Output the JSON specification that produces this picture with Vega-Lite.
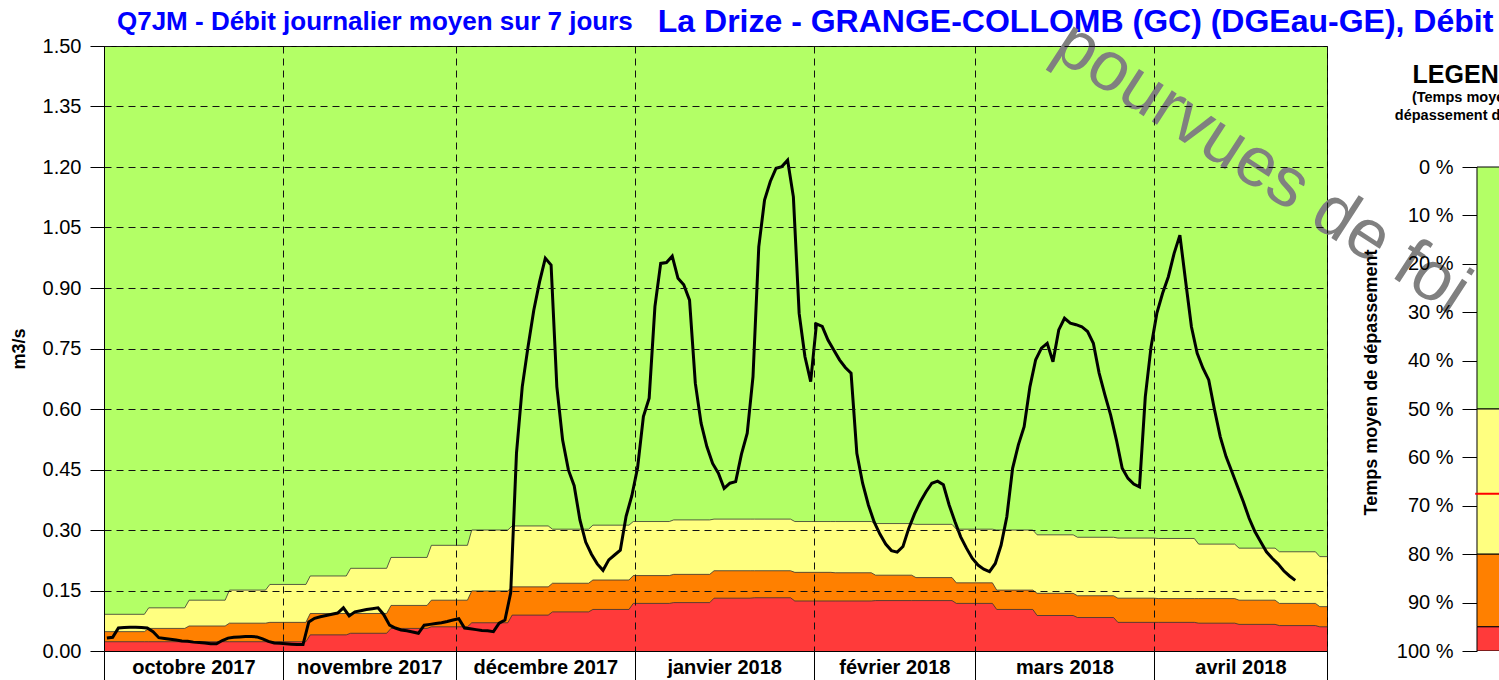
{
  "$schema": "https://vega.github.io/schema/vega-lite/v6.json",
  "background": "white",
  "padding": {"left": 9, "top": 5, "right": 0, "bottom": 0},
  "config": {
    "font": "Liberation Sans",
    "axis": {"labelFont": "Liberation Sans", "titleFont": "Liberation Sans", "labelColor": "#000", "titleColor": "#000", "tickColor": "#000", "domainColor": "#000"},
    "text": {"font": "Liberation Sans"}
  },
  "bounds": "flush",
  "spacing": 53,
  "datasets": {
    "seuils": [
      {"t": "2017-10-01T00:00", "q1": 0.023, "q2": 0.048, "q3": 0.091},
      {"t": "2017-10-08T00:00", "q1": 0.023, "q2": 0.048, "q3": 0.091},
      {"t": "2017-10-08T18:00", "q1": 0.023, "q2": 0.056, "q3": 0.107},
      {"t": "2017-10-15T00:00", "q1": 0.023, "q2": 0.056, "q3": 0.107},
      {"t": "2017-10-15T18:00", "q1": 0.023, "q2": 0.062, "q3": 0.126},
      {"t": "2017-10-22T00:00", "q1": 0.023, "q2": 0.062, "q3": 0.126},
      {"t": "2017-10-22T18:00", "q1": 0.023, "q2": 0.069, "q3": 0.151},
      {"t": "2017-10-29T00:00", "q1": 0.023, "q2": 0.069, "q3": 0.151},
      {"t": "2017-10-29T18:00", "q1": 0.023, "q2": 0.071, "q3": 0.165},
      {"t": "2017-11-05T00:00", "q1": 0.023, "q2": 0.071, "q3": 0.165},
      {"t": "2017-11-05T18:00", "q1": 0.040, "q2": 0.093, "q3": 0.186},
      {"t": "2017-11-12T00:00", "q1": 0.040, "q2": 0.093, "q3": 0.186},
      {"t": "2017-11-12T18:00", "q1": 0.044, "q2": 0.093, "q3": 0.205},
      {"t": "2017-11-19T00:00", "q1": 0.044, "q2": 0.093, "q3": 0.205},
      {"t": "2017-11-19T18:00", "q1": 0.056, "q2": 0.113, "q3": 0.232},
      {"t": "2017-11-26T00:00", "q1": 0.056, "q2": 0.113, "q3": 0.232},
      {"t": "2017-11-26T18:00", "q1": 0.060, "q2": 0.126, "q3": 0.262},
      {"t": "2017-12-03T00:00", "q1": 0.060, "q2": 0.126, "q3": 0.262},
      {"t": "2017-12-03T18:00", "q1": 0.070, "q2": 0.149, "q3": 0.300},
      {"t": "2017-12-10T00:00", "q1": 0.070, "q2": 0.149, "q3": 0.300},
      {"t": "2017-12-10T18:00", "q1": 0.089, "q2": 0.159, "q3": 0.310},
      {"t": "2017-12-17T00:00", "q1": 0.089, "q2": 0.159, "q3": 0.310},
      {"t": "2017-12-17T18:00", "q1": 0.097, "q2": 0.168, "q3": 0.302},
      {"t": "2017-12-24T00:00", "q1": 0.097, "q2": 0.168, "q3": 0.302},
      {"t": "2017-12-24T18:00", "q1": 0.103, "q2": 0.176, "q3": 0.312},
      {"t": "2017-12-31T00:00", "q1": 0.103, "q2": 0.176, "q3": 0.312},
      {"t": "2017-12-31T18:00", "q1": 0.118, "q2": 0.187, "q3": 0.321},
      {"t": "2018-01-07T00:00", "q1": 0.118, "q2": 0.187, "q3": 0.321},
      {"t": "2018-01-07T18:00", "q1": 0.120, "q2": 0.190, "q3": 0.325},
      {"t": "2018-01-14T00:00", "q1": 0.120, "q2": 0.190, "q3": 0.325},
      {"t": "2018-01-14T18:00", "q1": 0.131, "q2": 0.199, "q3": 0.327},
      {"t": "2018-01-21T00:00", "q1": 0.131, "q2": 0.199, "q3": 0.327},
      {"t": "2018-01-21T18:00", "q1": 0.132, "q2": 0.199, "q3": 0.327},
      {"t": "2018-01-28T00:00", "q1": 0.132, "q2": 0.199, "q3": 0.327},
      {"t": "2018-01-28T18:00", "q1": 0.124, "q2": 0.195, "q3": 0.321},
      {"t": "2018-02-04T00:00", "q1": 0.124, "q2": 0.195, "q3": 0.321},
      {"t": "2018-02-04T18:00", "q1": 0.124, "q2": 0.194, "q3": 0.321},
      {"t": "2018-02-11T00:00", "q1": 0.124, "q2": 0.194, "q3": 0.321},
      {"t": "2018-02-11T18:00", "q1": 0.125, "q2": 0.188, "q3": 0.316},
      {"t": "2018-02-18T00:00", "q1": 0.125, "q2": 0.188, "q3": 0.316},
      {"t": "2018-02-18T18:00", "q1": 0.125, "q2": 0.182, "q3": 0.314},
      {"t": "2018-02-25T00:00", "q1": 0.125, "q2": 0.182, "q3": 0.314},
      {"t": "2018-02-25T18:00", "q1": 0.118, "q2": 0.169, "q3": 0.302},
      {"t": "2018-03-04T00:00", "q1": 0.118, "q2": 0.169, "q3": 0.302},
      {"t": "2018-03-04T18:00", "q1": 0.103, "q2": 0.151, "q3": 0.300},
      {"t": "2018-03-11T00:00", "q1": 0.103, "q2": 0.151, "q3": 0.300},
      {"t": "2018-03-11T18:00", "q1": 0.088, "q2": 0.143, "q3": 0.288},
      {"t": "2018-03-18T00:00", "q1": 0.088, "q2": 0.143, "q3": 0.288},
      {"t": "2018-03-18T18:00", "q1": 0.083, "q2": 0.137, "q3": 0.282},
      {"t": "2018-03-25T00:00", "q1": 0.083, "q2": 0.137, "q3": 0.282},
      {"t": "2018-03-25T18:00", "q1": 0.071, "q2": 0.131, "q3": 0.280},
      {"t": "2018-04-01T00:00", "q1": 0.071, "q2": 0.131, "q3": 0.280},
      {"t": "2018-04-01T18:00", "q1": 0.071, "q2": 0.130, "q3": 0.279},
      {"t": "2018-04-08T00:00", "q1": 0.071, "q2": 0.130, "q3": 0.279},
      {"t": "2018-04-08T18:00", "q1": 0.069, "q2": 0.130, "q3": 0.265},
      {"t": "2018-04-15T00:00", "q1": 0.069, "q2": 0.130, "q3": 0.265},
      {"t": "2018-04-15T18:00", "q1": 0.066, "q2": 0.126, "q3": 0.255},
      {"t": "2018-04-22T00:00", "q1": 0.066, "q2": 0.126, "q3": 0.255},
      {"t": "2018-04-22T18:00", "q1": 0.063, "q2": 0.118, "q3": 0.246},
      {"t": "2018-04-29T00:00", "q1": 0.063, "q2": 0.118, "q3": 0.246},
      {"t": "2018-04-29T18:00", "q1": 0.060, "q2": 0.110, "q3": 0.234},
      {"t": "2018-05-01T00:00", "q1": 0.060, "q2": 0.110, "q3": 0.234}
    ],
    "q7jm": [
      {"t": "2017-10-01T12:00", "q": 0.032}, {"t": "2017-10-02T12:00", "q": 0.034}, {"t": "2017-10-03T12:00", "q": 0.057},
      {"t": "2017-10-04T12:00", "q": 0.058}, {"t": "2017-10-05T12:00", "q": 0.059}, {"t": "2017-10-06T12:00", "q": 0.059},
      {"t": "2017-10-07T12:00", "q": 0.058}, {"t": "2017-10-08T12:00", "q": 0.057}, {"t": "2017-10-09T12:00", "q": 0.048},
      {"t": "2017-10-10T12:00", "q": 0.033}, {"t": "2017-10-11T12:00", "q": 0.031}, {"t": "2017-10-12T12:00", "q": 0.029},
      {"t": "2017-10-13T12:00", "q": 0.027}, {"t": "2017-10-14T12:00", "q": 0.025}, {"t": "2017-10-15T12:00", "q": 0.024},
      {"t": "2017-10-16T12:00", "q": 0.022}, {"t": "2017-10-17T12:00", "q": 0.021}, {"t": "2017-10-18T12:00", "q": 0.020},
      {"t": "2017-10-19T12:00", "q": 0.018}, {"t": "2017-10-20T12:00", "q": 0.018}, {"t": "2017-10-21T12:00", "q": 0.026},
      {"t": "2017-10-22T12:00", "q": 0.032}, {"t": "2017-10-23T12:00", "q": 0.034}, {"t": "2017-10-24T12:00", "q": 0.035},
      {"t": "2017-10-25T12:00", "q": 0.036}, {"t": "2017-10-26T12:00", "q": 0.036}, {"t": "2017-10-27T12:00", "q": 0.035},
      {"t": "2017-10-28T12:00", "q": 0.030}, {"t": "2017-10-29T12:00", "q": 0.024}, {"t": "2017-10-30T12:00", "q": 0.020},
      {"t": "2017-10-31T12:00", "q": 0.019}, {"t": "2017-11-01T12:00", "q": 0.018}, {"t": "2017-11-02T12:00", "q": 0.017},
      {"t": "2017-11-03T12:00", "q": 0.016}, {"t": "2017-11-04T12:00", "q": 0.016}, {"t": "2017-11-05T12:00", "q": 0.072},
      {"t": "2017-11-06T12:00", "q": 0.081}, {"t": "2017-11-07T12:00", "q": 0.085}, {"t": "2017-11-08T12:00", "q": 0.088},
      {"t": "2017-11-09T12:00", "q": 0.091}, {"t": "2017-11-10T12:00", "q": 0.094}, {"t": "2017-11-11T12:00", "q": 0.107},
      {"t": "2017-11-12T12:00", "q": 0.087}, {"t": "2017-11-13T12:00", "q": 0.097}, {"t": "2017-11-14T12:00", "q": 0.100},
      {"t": "2017-11-15T12:00", "q": 0.103}, {"t": "2017-11-16T12:00", "q": 0.105}, {"t": "2017-11-17T12:00", "q": 0.107},
      {"t": "2017-11-18T12:00", "q": 0.090}, {"t": "2017-11-19T12:00", "q": 0.064}, {"t": "2017-11-20T12:00", "q": 0.057},
      {"t": "2017-11-21T12:00", "q": 0.052}, {"t": "2017-11-22T12:00", "q": 0.050}, {"t": "2017-11-23T12:00", "q": 0.047},
      {"t": "2017-11-24T12:00", "q": 0.044}, {"t": "2017-11-25T12:00", "q": 0.064}, {"t": "2017-11-26T12:00", "q": 0.066},
      {"t": "2017-11-27T12:00", "q": 0.068}, {"t": "2017-11-28T12:00", "q": 0.070}, {"t": "2017-11-29T12:00", "q": 0.073},
      {"t": "2017-11-30T12:00", "q": 0.077}, {"t": "2017-12-01T12:00", "q": 0.080}, {"t": "2017-12-02T12:00", "q": 0.057},
      {"t": "2017-12-03T12:00", "q": 0.055}, {"t": "2017-12-04T12:00", "q": 0.053}, {"t": "2017-12-05T12:00", "q": 0.051},
      {"t": "2017-12-06T12:00", "q": 0.050}, {"t": "2017-12-07T12:00", "q": 0.048}, {"t": "2017-12-08T12:00", "q": 0.069},
      {"t": "2017-12-09T12:00", "q": 0.077}, {"t": "2017-12-10T12:00", "q": 0.144}, {"t": "2017-12-11T12:00", "q": 0.490},
      {"t": "2017-12-12T12:00", "q": 0.655}, {"t": "2017-12-13T12:00", "q": 0.754}, {"t": "2017-12-14T12:00", "q": 0.845},
      {"t": "2017-12-15T12:00", "q": 0.915}, {"t": "2017-12-16T12:00", "q": 0.974}, {"t": "2017-12-17T12:00", "q": 0.957},
      {"t": "2017-12-18T12:00", "q": 0.655}, {"t": "2017-12-19T12:00", "q": 0.523}, {"t": "2017-12-20T12:00", "q": 0.449},
      {"t": "2017-12-21T12:00", "q": 0.410}, {"t": "2017-12-22T12:00", "q": 0.325}, {"t": "2017-12-23T12:00", "q": 0.270},
      {"t": "2017-12-24T12:00", "q": 0.240}, {"t": "2017-12-25T12:00", "q": 0.216}, {"t": "2017-12-26T12:00", "q": 0.200},
      {"t": "2017-12-27T12:00", "q": 0.226}, {"t": "2017-12-28T12:00", "q": 0.238}, {"t": "2017-12-29T12:00", "q": 0.250},
      {"t": "2017-12-30T12:00", "q": 0.334}, {"t": "2017-12-31T12:00", "q": 0.385}, {"t": "2018-01-01T12:00", "q": 0.455},
      {"t": "2018-01-02T12:00", "q": 0.581}, {"t": "2018-01-03T12:00", "q": 0.627}, {"t": "2018-01-04T12:00", "q": 0.854},
      {"t": "2018-01-05T12:00", "q": 0.961}, {"t": "2018-01-06T12:00", "q": 0.963}, {"t": "2018-01-07T12:00", "q": 0.979},
      {"t": "2018-01-08T12:00", "q": 0.924}, {"t": "2018-01-09T12:00", "q": 0.908}, {"t": "2018-01-10T12:00", "q": 0.870},
      {"t": "2018-01-11T12:00", "q": 0.664}, {"t": "2018-01-12T12:00", "q": 0.565}, {"t": "2018-01-13T12:00", "q": 0.507},
      {"t": "2018-01-14T12:00", "q": 0.465}, {"t": "2018-01-15T12:00", "q": 0.441}, {"t": "2018-01-16T12:00", "q": 0.403},
      {"t": "2018-01-17T12:00", "q": 0.416}, {"t": "2018-01-18T12:00", "q": 0.420}, {"t": "2018-01-19T12:00", "q": 0.488},
      {"t": "2018-01-20T12:00", "q": 0.540}, {"t": "2018-01-21T12:00", "q": 0.680}, {"t": "2018-01-22T12:00", "q": 1.002},
      {"t": "2018-01-23T12:00", "q": 1.118}, {"t": "2018-01-24T12:00", "q": 1.164}, {"t": "2018-01-25T12:00", "q": 1.197},
      {"t": "2018-01-26T12:00", "q": 1.201}, {"t": "2018-01-27T12:00", "q": 1.217}, {"t": "2018-01-28T12:00", "q": 1.126},
      {"t": "2018-01-29T12:00", "q": 0.837}, {"t": "2018-01-30T12:00", "q": 0.730}, {"t": "2018-01-31T12:00", "q": 0.668},
      {"t": "2018-02-01T12:00", "q": 0.811}, {"t": "2018-02-02T12:00", "q": 0.805}, {"t": "2018-02-03T12:00", "q": 0.771},
      {"t": "2018-02-04T12:00", "q": 0.746}, {"t": "2018-02-05T12:00", "q": 0.722}, {"t": "2018-02-06T12:00", "q": 0.703},
      {"t": "2018-02-07T12:00", "q": 0.689}, {"t": "2018-02-08T12:00", "q": 0.490}, {"t": "2018-02-09T12:00", "q": 0.416},
      {"t": "2018-02-10T12:00", "q": 0.362}, {"t": "2018-02-11T12:00", "q": 0.320}, {"t": "2018-02-12T12:00", "q": 0.290},
      {"t": "2018-02-13T12:00", "q": 0.265}, {"t": "2018-02-14T12:00", "q": 0.249}, {"t": "2018-02-15T12:00", "q": 0.245},
      {"t": "2018-02-16T12:00", "q": 0.259}, {"t": "2018-02-17T12:00", "q": 0.304}, {"t": "2018-02-18T12:00", "q": 0.340},
      {"t": "2018-02-19T12:00", "q": 0.370}, {"t": "2018-02-20T12:00", "q": 0.395}, {"t": "2018-02-21T12:00", "q": 0.416},
      {"t": "2018-02-22T12:00", "q": 0.421}, {"t": "2018-02-23T12:00", "q": 0.412}, {"t": "2018-02-24T12:00", "q": 0.362},
      {"t": "2018-02-25T12:00", "q": 0.321}, {"t": "2018-02-26T12:00", "q": 0.283}, {"t": "2018-02-27T12:00", "q": 0.255},
      {"t": "2018-02-28T12:00", "q": 0.230}, {"t": "2018-03-01T12:00", "q": 0.213}, {"t": "2018-03-02T12:00", "q": 0.203},
      {"t": "2018-03-03T12:00", "q": 0.197}, {"t": "2018-03-04T12:00", "q": 0.217}, {"t": "2018-03-05T12:00", "q": 0.262},
      {"t": "2018-03-06T12:00", "q": 0.333}, {"t": "2018-03-07T12:00", "q": 0.453}, {"t": "2018-03-08T12:00", "q": 0.511},
      {"t": "2018-03-09T12:00", "q": 0.556}, {"t": "2018-03-10T12:00", "q": 0.655}, {"t": "2018-03-11T12:00", "q": 0.722},
      {"t": "2018-03-12T12:00", "q": 0.751}, {"t": "2018-03-13T12:00", "q": 0.763}, {"t": "2018-03-14T12:00", "q": 0.717},
      {"t": "2018-03-15T12:00", "q": 0.796}, {"t": "2018-03-16T12:00", "q": 0.825}, {"t": "2018-03-17T12:00", "q": 0.813},
      {"t": "2018-03-18T12:00", "q": 0.809}, {"t": "2018-03-19T12:00", "q": 0.804}, {"t": "2018-03-20T12:00", "q": 0.792},
      {"t": "2018-03-21T12:00", "q": 0.763}, {"t": "2018-03-22T12:00", "q": 0.689}, {"t": "2018-03-23T12:00", "q": 0.635},
      {"t": "2018-03-24T12:00", "q": 0.585}, {"t": "2018-03-25T12:00", "q": 0.523}, {"t": "2018-03-26T12:00", "q": 0.453},
      {"t": "2018-03-27T12:00", "q": 0.428}, {"t": "2018-03-28T12:00", "q": 0.414}, {"t": "2018-03-29T12:00", "q": 0.407},
      {"t": "2018-03-30T12:00", "q": 0.630}, {"t": "2018-03-31T12:00", "q": 0.754}, {"t": "2018-04-01T12:00", "q": 0.837},
      {"t": "2018-04-02T12:00", "q": 0.887}, {"t": "2018-04-03T12:00", "q": 0.928}, {"t": "2018-04-04T12:00", "q": 0.986},
      {"t": "2018-04-05T12:00", "q": 1.031}, {"t": "2018-04-06T12:00", "q": 0.916}, {"t": "2018-04-07T12:00", "q": 0.804},
      {"t": "2018-04-08T12:00", "q": 0.738}, {"t": "2018-04-09T12:00", "q": 0.701}, {"t": "2018-04-10T12:00", "q": 0.672},
      {"t": "2018-04-11T12:00", "q": 0.598}, {"t": "2018-04-12T12:00", "q": 0.531}, {"t": "2018-04-13T12:00", "q": 0.482},
      {"t": "2018-04-14T12:00", "q": 0.445}, {"t": "2018-04-15T12:00", "q": 0.407}, {"t": "2018-04-16T12:00", "q": 0.370},
      {"t": "2018-04-17T12:00", "q": 0.329}, {"t": "2018-04-18T12:00", "q": 0.296}, {"t": "2018-04-19T12:00", "q": 0.271},
      {"t": "2018-04-20T12:00", "q": 0.246}, {"t": "2018-04-21T12:00", "q": 0.230}, {"t": "2018-04-22T12:00", "q": 0.216},
      {"t": "2018-04-23T12:00", "q": 0.199}, {"t": "2018-04-24T12:00", "q": 0.186}, {"t": "2018-04-25T12:00", "q": 0.175}
    ],
    "zones": [
      {"zone": "vert", "de": 0, "a": 50},
      {"zone": "jaune", "de": 50, "a": 80},
      {"zone": "orange", "de": 80, "a": 95},
      {"zone": "rouge", "de": 95, "a": 100}
    ],
    "repere": [{"pct": 67.5}]
  },
  "hconcat": [
    {
      "width": 1223,
      "height": 605,
      "view": {"fill": "#b3ff66", "stroke": "#000", "strokeWidth": 1},
      "layer": [
        {
          "data": {"name": "seuils"},
          "mark": {"type": "area", "color": "#ffff80", "opacity": 1, "line": {"color": "#333", "strokeWidth": 0.8}},
          "encoding": {
            "x": {
              "field": "t", "type": "temporal",
              "scale": {"domain": [{"year": 2017, "month": 10, "date": 1}, {"year": 2018, "month": 5, "date": 1}], "nice": false},
              "axis": {
                "title": null,
                "values": [
                  {"year": 2017, "month": 10, "date": 1}, {"year": 2017, "month": 10, "date": 16, "hours": 12},
                  {"year": 2017, "month": 11, "date": 1}, {"year": 2017, "month": 11, "date": 16},
                  {"year": 2017, "month": 12, "date": 1}, {"year": 2017, "month": 12, "date": 16, "hours": 12},
                  {"year": 2018, "month": 1, "date": 1}, {"year": 2018, "month": 1, "date": 16, "hours": 12},
                  {"year": 2018, "month": 2, "date": 1}, {"year": 2018, "month": 2, "date": 15},
                  {"year": 2018, "month": 3, "date": 1}, {"year": 2018, "month": 3, "date": 16, "hours": 12},
                  {"year": 2018, "month": 4, "date": 1}, {"year": 2018, "month": 4, "date": 16},
                  {"year": 2018, "month": 5, "date": 1}
                ],
                "labelExpr": "date(datum.value) == 1 ? '' : ['janvier','février','mars','avril','mai','juin','juillet','août','septembre','octobre','novembre','décembre'][month(datum.value)] + ' ' + year(datum.value)",
                "labelFontSize": 20,
                "labelFontWeight": "bold",
                "labelOverlap": false,
                "labelFlush": false,
                "labelBaseline": "top",
                "labelPadding": -23,
                "tickSize": 29,
                "tickOpacity": {"condition": {"test": "date(datum.value) == 1", "value": 1}, "value": 0},
                "grid": true,
                "gridOpacity": {"condition": {"test": "date(datum.value) == 1", "value": 1}, "value": 0},
                "gridDash": [7, 5],
                "gridColor": "#111",
                "domain": true,
                "zindex": 1
              }
            },
            "y": {
              "field": "q3", "type": "quantitative",
              "scale": {"domain": [0, 1.5], "nice": false},
              "axis": {
                "title": "m3/s",
                "titleFontSize": 18,
                "titleFontWeight": "bold",
                "titlePadding": 14,
                "values": [0, 0.15, 0.3, 0.45, 0.6, 0.75, 0.9, 1.05, 1.2, 1.35, 1.5],
                "format": ".2f",
                "labelFontSize": 20,
                "tickSize": 14,
                "labelPadding": 9,
                "grid": true,
                "gridDash": [7, 5],
                "gridColor": "#111",
                "domain": true,
                "zindex": 1
              }
            }
          }
        },
        {
          "data": {"name": "seuils"},
          "mark": {"type": "area", "color": "#ff8000", "opacity": 1, "line": {"color": "#333", "strokeWidth": 0.8}},
          "encoding": {
            "x": {"field": "t", "type": "temporal"},
            "y": {"field": "q2", "type": "quantitative"}
          }
        },
        {
          "data": {"name": "seuils"},
          "mark": {"type": "area", "color": "#ff3a3a", "opacity": 1, "line": {"color": "#333", "strokeWidth": 0.8}},
          "encoding": {
            "x": {"field": "t", "type": "temporal"},
            "y": {"field": "q1", "type": "quantitative"}
          }
        },
        {
          "data": {"name": "q7jm"},
          "mark": {"type": "line", "color": "#000", "strokeWidth": 3},
          "encoding": {
            "x": {"field": "t", "type": "temporal"},
            "y": {"field": "q", "type": "quantitative"}
          }
        },
        {
          "data": {"values": [{}]},
          "mark": {"type": "text", "text": "Q7JM - Débit journalier moyen sur 7 jours", "align": "left", "baseline": "middle", "fontSize": 26, "fontWeight": "bold", "color": "#0000ff"},
          "encoding": {
            "x": {"datum": {"year": 2017, "month": 10, "date": 3, "hours": 6}, "type": "temporal"},
            "y": {"datum": 1.56, "type": "quantitative"}
          }
        },
        {
          "data": {"values": [{}]},
          "mark": {"type": "text", "text": "La Drize - GRANGE-COLLOMB (GC) (DGEau-GE), Débit", "align": "left", "baseline": "middle", "fontSize": 32, "fontWeight": "bold", "color": "#0000ff"},
          "encoding": {
            "x": {"datum": {"year": 2018, "month": 1, "date": 5}, "type": "temporal"},
            "y": {"datum": 1.56, "type": "quantitative"}
          }
        },
        {
          "data": {"values": [{}]},
          "mark": {"type": "text", "text": "pourvues de foi", "align": "center", "baseline": "middle", "fontSize": 70, "angle": 33, "color": "#808080"},
          "encoding": {
            "x": {"datum": {"year": 2018, "month": 4, "date": 19, "hours": 17}, "type": "temporal"},
            "y": {"datum": 1.198, "type": "quantitative"}
          }
        }
      ]
    },
    {
      "width": 119,
      "height": 605,
      "view": {"stroke": null, "fill": null},
      "layer": [
        {
          "data": {"name": "zones"},
          "mark": {"type": "rect", "stroke": "#000", "strokeWidth": 1, "clip": true},
          "encoding": {
            "x": {"datum": 0.815, "type": "quantitative", "scale": {"domain": [0, 1], "nice": false, "zero": false}, "axis": null},
            "x2": {"datum": 1.3},
            "y": {
              "field": "de", "type": "quantitative",
              "scale": {"domain": [-25, 100], "reverse": true, "nice": false, "zero": false},
              "axis": {
                "orient": "left",
                "offset": -97,
                "values": [0, 10, 20, 30, 40, 50, 60, 70, 80, 90, 100],
                "labelExpr": "datum.value + ' %'",
                "labelFontSize": 20,
                "tickSize": 15,
                "labelPadding": 9,
                "domain": false,
                "grid": false,
                "title": "Temps moyen de dépassement",
                "titleFontSize": 18,
                "titleFontWeight": "bold",
                "titlePadding": 16,
                "titleY": 336
              }
            },
            "y2": {"field": "a"},
            "color": {
              "field": "zone", "type": "nominal",
              "scale": {"domain": ["vert", "jaune", "orange", "rouge"], "range": ["#b3ff66", "#ffff80", "#ff8000", "#ff3a3a"]},
              "legend": null
            }
          }
        },
        {
          "data": {"name": "repere"},
          "mark": {"type": "rule", "color": "#ff0000", "strokeWidth": 2, "clip": true},
          "encoding": {
            "x": {"datum": 0.8, "type": "quantitative"},
            "x2": {"datum": 1.3},
            "y": {"field": "pct", "type": "quantitative"}
          }
        },
        {
          "data": {"values": [{}]},
          "mark": {"type": "text", "text": "LEGENDE", "align": "center", "baseline": "middle", "fontSize": 25, "fontWeight": "bold", "color": "#000", "clip": true},
          "encoding": {
            "x": {"datum": 0.7815, "type": "quantitative"},
            "y": {"datum": -19, "type": "quantitative"}
          }
        },
        {
          "data": {"values": [{}]},
          "mark": {"type": "text", "text": "(Temps moyen de", "align": "center", "baseline": "middle", "fontSize": 14.5, "fontWeight": "bold", "color": "#000", "clip": true},
          "encoding": {
            "x": {"datum": 0.7815, "type": "quantitative"},
            "y": {"datum": -14.3, "type": "quantitative"}
          }
        },
        {
          "data": {"values": [{}]},
          "mark": {"type": "text", "text": "dépassement du seuil)", "align": "center", "baseline": "middle", "fontSize": 14.5, "fontWeight": "bold", "color": "#000", "clip": true},
          "encoding": {
            "x": {"datum": 0.7815, "type": "quantitative"},
            "y": {"datum": -10.5, "type": "quantitative"}
          }
        }
      ]
    }
  ]
}
